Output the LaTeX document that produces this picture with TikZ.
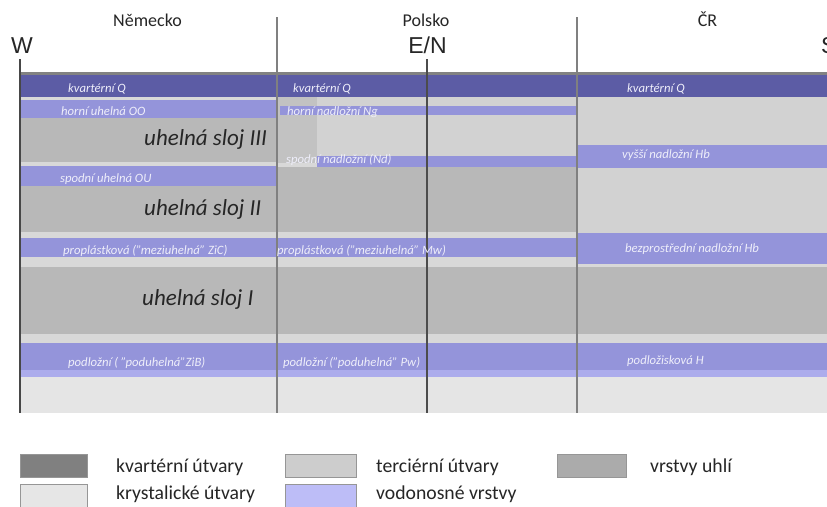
\documentclass[tikz,border=0pt]{standalone}
\usepackage{fontspec}
\setmainfont{Carlito}
\newfontfamily\arialf{Liberation Sans}
\definecolor{quat}{RGB}{92,92,165}
\definecolor{aq}{RGB}{148,148,218}
\definecolor{aql}{RGB}{172,172,236}
\definecolor{coal}{RGB}{184,184,184}
\definecolor{coaltwo}{RGB}{194,194,194}
\definecolor{tert}{RGB}{210,210,210}
\definecolor{gapc}{RGB}{216,216,216}
\definecolor{cryst}{RGB}{229,229,229}
\definecolor{topl}{RGB}{130,130,130}
\definecolor{bandtxt}{RGB}{238,238,250}
\definecolor{swborder}{RGB}{150,150,150}
\definecolor{legquat}{RGB}{128,128,128}
\definecolor{legtert}{RGB}{205,205,205}
\definecolor{legcoal}{RGB}{171,171,171}
\definecolor{legcryst}{RGB}{230,230,230}
\definecolor{legaq}{RGB}{189,189,247}
\begin{document}
\begin{tikzpicture}[x=1pt,y=-1pt,
  band/.style={font=\fontsize{12.7}{14}\selectfont\itshape, text=bandtxt, anchor=base west, inner sep=0pt},
  big/.style={font=\fontsize{23}{26}\selectfont\itshape, text=black!85, anchor=base west, inner sep=0pt},
  hdr/.style={font=\fontsize{18}{20}\selectfont, text=black!85, anchor=base, inner sep=0pt},
  dirlabel/.style={font=\arialf\fontsize{23}{26}\selectfont, text=black!85, anchor=base, inner sep=0pt},
  leg/.style={font=\fontsize{19.7}{22}\selectfont, text=black!85, anchor=base west, inner sep=0pt},
  sw/.style={draw=swborder, line width=0.8pt},
  divline/.style={draw=black!50, line width=1.2pt},
  mainline/.style={draw=black!72, line width=2pt},
  enline/.style={draw=black!70, line width=1.5pt}]
\useasboundingbox (0,0) rectangle (827,506);
\fill[white] (0,0) rectangle (827,506);
% base
\fill[gapc] (20,72) rectangle (827,413);
\fill[topl] (20,72) rectangle (827,75);
\fill[quat] (20,75) rectangle (827,97);
% Nemecko
\fill[aq] (20,100) rectangle (280,118);
\fill[coal] (20,118) rectangle (277,162);
\fill[aq] (20,166) rectangle (277,186);
\fill[coal] (20,186) rectangle (277,232);
% Polsko
\fill[tert] (277,97) rectangle (577,156);
\fill[coaltwo] (277,97) rectangle (317,163);
\fill[aq] (280,106) rectangle (577,115);
\fill[aq] (317,156) rectangle (577,167);
\fill[coal] (277,167) rectangle (577,232);
% CR
\fill[tert] (577,97) rectangle (827,145);
\fill[aq] (577,145) rectangle (827,168);
\fill[tert] (577,168) rectangle (827,233);
\fill[aq] (577,233) rectangle (827,264);
% common
\fill[aq] (20,238) rectangle (577,257);
\fill[coal] (20,267) rectangle (827,334);
\fill[aq] (20,343) rectangle (827,370);
\fill[aql] (20,370) rectangle (827,377);
\fill[cryst] (20,377) rectangle (827,413);
% lines
\coordinate (d1t) at (277,17); \coordinate (d1b) at (277,413);
\coordinate (d2t) at (577,17); \coordinate (d2b) at (577,413);
\coordinate (wt) at (20,59); \coordinate (wb) at (20,413);
\coordinate (et) at (427,59); \coordinate (eb) at (427,413);
\draw[divline] (d1t) -- (d1b);
\draw[divline] (d2t) -- (d2b);
\draw[mainline] (wt) -- (wb);
\draw[enline] (et) -- (eb);
% headers
\node[hdr] (nem) at (147.5,27) {Německo};
\node[hdr] (pol) at (426,27) {Polsko};
\node[hdr] (cr) at (707.5,27) {ČR};
\node[dirlabel] (w) at (22,53) {W};
\node[dirlabel] (en) at (427.5,53) {E/N};
\node[dirlabel, anchor=base west] (s) at (821,53) {S};
% band labels
\node[band] (q1) at (68,92) {kvartérní Q};
\node[band] (q2) at (293,92) {kvartérní Q};
\node[band] (q3) at (627,92) {kvartérní Q};
\node[band] (oo) at (61,115) {horní uhelná OO};
\node[band] (ng) at (287,115) {horní nadložní Ng};
\node[band] (nd) at (286,163) {spodní nadložní (Nd)};
\node[band] (hb1) at (622,158) {vyšší nadložní Hb};
\node[band] (ou) at (60,182) {spodní uhelná OU};
\node[band] (zic) at (63,254) {proplástková ("meziuhelná" ZiC)};
\node[band] (mw) at (277,254) {proplástková ("meziuhelná" Mw)};
\node[band] (hb2) at (625,252) {bezprostřední nadložní Hb};
\node[band] (zib) at (68,366) {podložní ( "poduhelná"ZiB)};
\node[band] (pw) at (283,366) {podložní ("poduhelná" Pw)};
\node[band] (h) at (627,364) {podložisková H};
% big labels
\node[big] (s3) at (144,145) {uhelná sloj III};
\node[big] (s2) at (144,215) {uhelná sloj II};
\node[big] (s1) at (142,305) {uhelná sloj I};
% legend
\fill[legquat, sw] (20,454) rectangle (87,477);
\fill[legcryst, sw] (20,484) rectangle (87,508);
\fill[legtert, sw] (285,454) rectangle (356,477);
\fill[legaq, sw] (285,484) rectangle (356,508);
\fill[legcoal, sw] (557,454) rectangle (626,477);
\node[leg] (l1) at (116,472) {kvartérní útvary};
\node[leg] (l2) at (116,499) {krystalické útvary};
\node[leg] (l3) at (376,472) {terciérní útvary};
\node[leg] (l4) at (376,499) {vodonosné vrstvy};
\node[leg] (l5) at (650,472) {vrstvy uhlí};
\end{tikzpicture}
\end{document}
